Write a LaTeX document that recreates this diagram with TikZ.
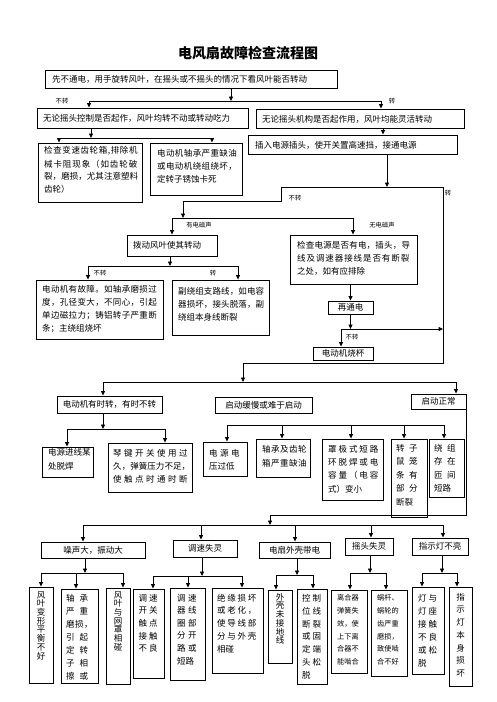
\documentclass[tikz,border=0pt]{standalone}
\usepackage{fontspec}
\setmainfont{Noto Sans CJK SC}
\usetikzlibrary{arrows.meta,fit}
\def\sprA#1{#1\sprB}
\def\sprB#1{\ifx#1\relax\else\hfil#1\expandafter\sprB\fi}
\newcommand\jl[2]{\makebox[#1pt][l]{\sprA#2\relax}}
\newcommand\fbx[5]{\node[bx,fit={(#2,#3)(#4,#5)}] (#1) {};}
\newcommand\rows[6][]{\foreach \r [count=\i] in {#6} \node[tx,#1] (#2-\i) at (#3,{#4+(\i-1)*#5}) {\r};}
\begin{document}
\begin{tikzpicture}[x=1pt,y=-1pt,
  bx/.style={draw,line width=0.9pt,inner sep=0pt},
  tx/.style={inner sep=0pt,anchor=west,font=\fontsize{8.5}{10}\selectfont},
  tc/.style={inner sep=0pt,font=\fontsize{8.5}{10}\selectfont},
  sm/.style={font=\fontsize{7.2}{9}\selectfont},
  lab/.style={inner sep=0pt,font=\fontsize{6.3}{7}\selectfont},
  ar/.style={-{Triangle[length=4.5pt,width=4pt]},line width=0.8pt},
  ln/.style={line width=0.8pt}]
\useasboundingbox (0,0) rectangle (496,702);

\node[inner sep=0pt,font=\fontsize{14}{16}\selectfont\bfseries] (title) at (248,53) {电风扇故障检查流程图};

% ---------- top ----------
\fbx{A}{45}{70}{337}{88}
\node[tx] (tA) at (52,79) {先不通电，用手旋转风叶，在摇头或不摇头的情况下看风叶能否转动};
\fbx{B1}{37}{108}{248}{128}
\node[tx] (tB1) at (43,118) {无论摇头控制是否起作，风叶均转不动或转动吃力};
\fbx{B2}{256}{109}{464}{128}
\node[tx] (tB2) at (262,119) {无论摇头机构是否起作用，风叶均能灵活转动};

\coordinate (jA) at (231,101);
\coordinate (jA1) at (89,101);
\coordinate (jA2) at (381,101);
\draw[ar] (A.south -| jA) -- (jA);
\draw[ln] (jA1) -- (jA2);
\draw[ar] (jA1) -- (B1.north -| jA1);
\draw[ar] (jA2) -- (B2.north -| jA2);
\node[lab] (l1) at (62,101) {不转};
\node[lab] (l2) at (392,101) {转};

% ---------- C row ----------
\fbx{C1}{38}{143}{142}{202}
\rows{tC1}{44}{151}{12.8}{\jl{94}{检查变速齿轮箱,排除机},\jl{94}{械卡阻现象（如齿轮破},\jl{94}{裂，磨损，尤其注意塑料},齿轮）}
\fbx{C2}{150}{143}{242}{195}
\rows{tC2}{157}{153}{13}{\jl{80}{电动机轴承严重缺油},\jl{80}{或电动机绕组绕坏，},定转子锈蚀卡死}
\fbx{C3}{248}{135}{457}{154}
\node[tx] (tC3) at (255,145) {插入电源插头，使开关置高速挡，接通电源};

\coordinate (jB) at (91,138);
\coordinate (jB1) at (59,138);
\coordinate (jB2) at (212,138);
\draw[ar] (B1.south -| jB) -- (jB);
\draw[ln] (jB1) -- (jB2);
\draw[ar] (jB1) -- (C1.north -| jB1);
\draw[ar] (jB2) -- (C2.north -| jB2);
\coordinate (kB) at (383,130);
\draw[ar] (B2.south -| kB) -- (C3.north -| kB);

% ---------- loop ----------
\coordinate (jC) at (387,187);
\coordinate (L1) at (281,187);
\coordinate (L2) at (443,187);
\coordinate (L3) at (281,201);
\coordinate (L4) at (183,201);
\coordinate (jD) at (183,218);
\draw[ar] (C3.south -| jC) -- (jC);
\draw[ln] (L2) -- (L1) -- (L3) -- (L4);
\draw[ar] (L4) -- (jD);
\node[lab] (l3) at (295,198) {不转};
\node[lab] (l4) at (448,193) {转};

\coordinate (jD1) at (172,218);
\coordinate (jD2) at (353,218);
\draw[ln] (jD1) -- (jD2);
\fbx{D1}{127}{235}{217}{256}
\node[tx] (tD1) at (133,245) {拨动风叶使其转动};
\fbx{D2}{290}{235}{417}{284}
\rows{tD2}{297}{245}{13}{\jl{113}{检查电源是否有电，插头，导},\jl{113}{线及调速器接线是否有断裂},之处，如有应排除}
\draw[ar] (jD1) -- (D1.north -| jD1);
\draw[ar] (jD2) -- (D2.north -| jD2);
\node[lab] (l5) at (199,225) {有电磁声};
\node[lab] (l6) at (382,225) {无电磁声};

% ---------- E row ----------
\coordinate (jE) at (170,266);
\coordinate (jE1) at (88,266);
\coordinate (jE2) at (238,266);
\draw[ar] (D1.south -| jE) -- (jE);
\draw[ln] (jE1) -- (jE2);
\fbx{E1}{36}{280}{163}{339}
\rows{tE1}{42}{289}{13.3}{\jl{115}{电动机有故障。如轴承磨损过},\jl{115}{度，孔径变大，不同心，引起},\jl{115}{单边磁拉力；铸铝转子严重断},条；主绕组烧坏}
\fbx{E2}{172}{280}{269}{335}
\rows{tE2}{178}{291}{13}{\jl{86}{副绕组支路线，如电容},\jl{86}{器损坏，接头脱落，副},绕组本身线断裂}
\draw[ar] (jE1) -- (E1.north -| jE1);
\draw[ar] (jE2) -- (E2.north -| jE2);
\node[lab] (l7) at (100,273) {不转};
\node[lab] (l8) at (213,273) {转};

\fbx{R}{328}{301}{373}{314}
\node[tc] (tR) at (R.center) {再通电};
\draw[ar] (D2.south -| R.north) -- (R.north);
\coordinate (jR) at (350.5,329);
\coordinate (jR1) at (341,329);
\draw[ar] (R.south) -- (jR);
\draw[ar] (jR1) -- (L2 |- jR1);
\fbx{S}{313}{347}{373}{360}
\node[tc] (tS) at (S.center) {电动机烧杯};
\draw[ar] (jR1) -- (S.north -| jR1);
\node[lab] (l9) at (352,337) {不转};

\coordinate (L5) at (443,363);
\coordinate (L6) at (243,363);
\coordinate (jF) at (243,382);
\draw[ln] (L2) -- (L5) -- (L6);
\draw[ar] (L6) -- (jF);

% ---------- F row ----------
\coordinate (jF1) at (103,382);
\coordinate (jF2) at (456,382);
\draw[ln] (jF1) -- (jF2);
\fbx{F1}{57}{396}{162}{413}
\node[tc] (tF1) at (F1.center) {电动机有时转，有时不转};
\fbx{F2}{215}{397}{312}{413}
\node[tc] (tF2) at (F2.center) {启动缓慢或难于启动};
\fbx{F3}{411}{394}{466}{409}
\node[tc] (tF3) at (F3.center) {启动正常};
\draw[ar] (jF1) -- (F1.north -| jF1);
\draw[ar] (jF2) -- (F3.north -| jF2);

% ---------- G ----------
\coordinate (jG) at (103,429);
\coordinate (jG1) at (67,429);
\coordinate (jG2) at (165,429);
\draw[ar] (F1.south -| jG) -- (jG);
\draw[ln] (jG1) -- (jG2);
\fbx{G1}{42}{447}{93}{477}
\rows{tG1}{48}{452}{14}{电源进线某,处脱焊}
\fbx{G2}{108}{443}{192}{492}
\rows{tG2}{113}{453}{13}{\jl{77}{琴键开关使用过},\jl{77}{久，弹簧压力不足，},\jl{77}{使触点时通时断}}
\draw[ar] (jG1) -- (G1.north -| jG1);
\draw[ar] (jG2) -- (G2.north -| jG2);

% ---------- H ----------
\coordinate (jH1) at (227,425);
\coordinate (jH2) at (282,425);
\coordinate (jH3) at (351,425);
\coordinate (jH4) at (404,425);
\coordinate (jH5) at (444,425);
\draw[ln] (jH1) -- (jH5);
\fbx{H1}{203}{442}{247}{476}
\rows{tH1}{209}{453}{13}{\jl{33}{电源电},压过低}
\fbx{H2}{256}{439}{310}{477}
\rows{tH2}{262}{449}{14}{\jl{45}{轴承及齿轮},\jl{45}{箱严重缺油}}
\fbx{H3}{322}{439}{383}{500}
\rows{tH3}{328}{449}{13.3}{\jl{52}{罩极式短路},\jl{52}{环脱焊或电},\jl{52}{容量（电容},式）变小}
\fbx{H4}{391}{439}{427}{517}
\rows{tH4}{396}{448}{13.5}{\jl{26}{转子},\jl{26}{鼠笼},\jl{26}{条有},\jl{26}{部分},断裂}
\fbx{H5}{429}{439}{464}{497}
\rows{tH5}{434}{448}{13.5}{\jl{26}{绕组},\jl{26}{存在},\jl{26}{匝间},短路}
\draw[ar] (jH1) -- (H1.north -| jH1);
\draw[ar] (jH2) -- (H2.north -| jH2);
\draw[ar] (jH3) -- (H3.north -| jH3);
\draw[ar] (jH4) -- (H4.north -| jH4);
\draw[ar] (jH5) -- (H5.north -| jH5);

% ---------- J row ----------
\coordinate (M2) at (270,515);
\coordinate (jJ) at (270,525);
\draw[ln] (F3.south east) -- (F3.south east |- M2) -- (M2);
\draw[ar] (M2) -- (jJ);
\coordinate (jJ1) at (83,525);
\coordinate (jJ2) at (201,525);
\coordinate (jJ3) at (295,525);
\coordinate (jJ4) at (371,525);
\coordinate (jJ5) at (443,525);
\draw[ln] (jJ1) -- (jJ5);
\fbx{J1}{41}{542}{145}{558}
\node[tc] (tJ1) at (J1.center) {噪声大，振动大};
\fbx{J2}{173}{540}{237}{557}
\node[tc] (tJ2) at (J2.center) {调速失灵};
\fbx{J3}{259}{542}{330}{558}
\node[tc] (tJ3) at (J3.center) {电扇外壳带电};
\fbx{J4}{345}{538}{393}{555}
\node[tc] (tJ4) at (J4.center) {摇头失灵};
\fbx{J5}{412}{538}{468}{555}
\node[tc] (tJ5) at (J5.center) {指示灯不亮};
\draw[ar] (jJ1) -- (J1.north -| jJ1);
\draw[ar] (jJ2) -- (J2.north -| jJ2);
\draw[ar] (jJ3) -- (J3.north -| jJ3);
\draw[ar] (jJ4) -- (J4.north -| jJ4);
\draw[ar] (jJ5) -- (J5.north -| jJ5);

% ---------- K under J1 ----------
\coordinate (jK) at (85,573);
\coordinate (jK1) at (41,573);
\coordinate (jK2) at (76,573);
\coordinate (jK3) at (123,573);
\draw[ar] (J1.south -| jK) -- (jK);
\draw[ln] (jK1) -- (jK3);
\fbx{K1}{29}{587}{53}{683}
\rows[anchor=center]{tK1}{41}{595}{8.7}{风,叶,变,形,平,衡,不,好}
\fbx{K2}{61}{589}{98}{683}
\rows{tK2}{66}{598}{13}{\jl{27}{轴承},\jl{27}{严重},\jl{27}{磨损，},\jl{27}{引起},\jl{27}{定转},\jl{27}{子相},\jl{27}{擦或}}
\fbx{K3}{106}{588}{130}{684}
\rows[anchor=center]{tK3}{118}{595}{8.7}{风,叶,与,网,罩,相,碰}
\draw[ar] (jK1) -- (K1.north -| jK1);
\draw[ar] (jK2) -- (K2.north -| jK2);
\draw[ar] (jK3) -- (K3.north -| jK3);

% ---------- K under J2 ----------
\coordinate (jL) at (202,576);
\coordinate (jL1) at (153,576);
\coordinate (jL2) at (188,576);
\coordinate (jL3) at (242,576);
\draw[ar] (J2.south -| jL) -- (jL);
\draw[ln] (jL1) -- (jL3);
\fbx{K4}{133}{589}{164}{678}
\rows{tK4}{138.5}{598}{12.6}{\jl{21}{调速},\jl{21}{开关},\jl{21}{触点},\jl{21}{接触},\jl{21}{不良}}
\fbx{K5}{170}{588}{205}{680}
\rows{tK5}{177}{598}{12.6}{\jl{22}{调速},\jl{22}{器线},\jl{22}{圈部},\jl{22}{分开},\jl{22}{路或},短路}
\fbx{K6}{212}{588}{263}{673}
\rows{tK6}{217}{598}{12.8}{\jl{41}{绝缘损坏},\jl{41}{或老化，},\jl{41}{使导线部},\jl{41}{分与外壳},相碰}
\draw[ar] (jL1) -- (K4.north -| jL1);
\draw[ar] (jL2) -- (K5.north -| jL2);
\draw[ar] (jL3) -- (K6.north -| jL3);

% ---------- K under J3 ----------
\coordinate (jN) at (297,575);
\coordinate (jN1) at (276,575);
\coordinate (jN2) at (313,575);
\draw[ar] (J3.south -| jN) -- (jN);
\draw[ln] (jN1) -- (jN2);
\fbx{K7}{268}{590}{292}{663}
\rows[anchor=center]{tK7}{280}{597}{8.7}{外,壳,未,接,地,线}
\fbx{K8}{297}{589}{327}{684}
\rows{tK8}{302}{598}{12.9}{\jl{21}{控制},\jl{21}{位线},\jl{21}{断裂},\jl{21}{或固},\jl{21}{定端},\jl{21}{头松},脱}
\draw[ar] (jN1) -- (K7.north -| jN1);
\draw[ar] (jN2) -- (K8.north -| jN2);

% ---------- K under J4 ----------
\coordinate (jP) at (370,573);
\coordinate (jP1) at (350,573);
\coordinate (jP2) at (386,573);
\draw[ar] (J4.south -| jP) -- (jP);
\draw[ln] (jP1) -- (jP2);
\fbx{K9}{331}{590}{367}{673}
\rows[sm]{tK9}{337}{598}{12.8}{离合器,弹簧失,效，使,上下离,合器不,能啮合}
\fbx{K10}{371}{590}{407}{676}
\rows[sm]{tK10}{377}{598}{12.8}{蜗杆、,蜗轮的,齿严重,磨损，,致使啮,合不好}
\draw[ar] (jP1) -- (K9.north -| jP1);
\draw[ar] (jP2) -- (K10.north -| jP2);

% ---------- K under J5 ----------
\coordinate (jQ) at (442,573);
\coordinate (jQ1) at (422,573);
\coordinate (jQ2) at (457,573);
\draw[ar] (J5.south -| jQ) -- (jQ);
\draw[ln] (jQ1) -- (jQ2);
\fbx{K11}{412}{587}{444}{674}
\rows{tK11}{418}{598}{13}{\jl{21}{灯与},\jl{21}{灯座},\jl{21}{接触},\jl{21}{不良},\jl{21}{或松},脱}
\fbx{K12}{449}{587}{472}{686}
\rows[anchor=center]{tK12}{460.5}{597}{12.7}{指,示,灯,本,身,损,坏}
\draw[ar] (jQ1) -- (K11.north -| jQ1);
\draw[ar] (jQ2) -- (K12.north -| jQ2);
\end{tikzpicture}
\end{document}
